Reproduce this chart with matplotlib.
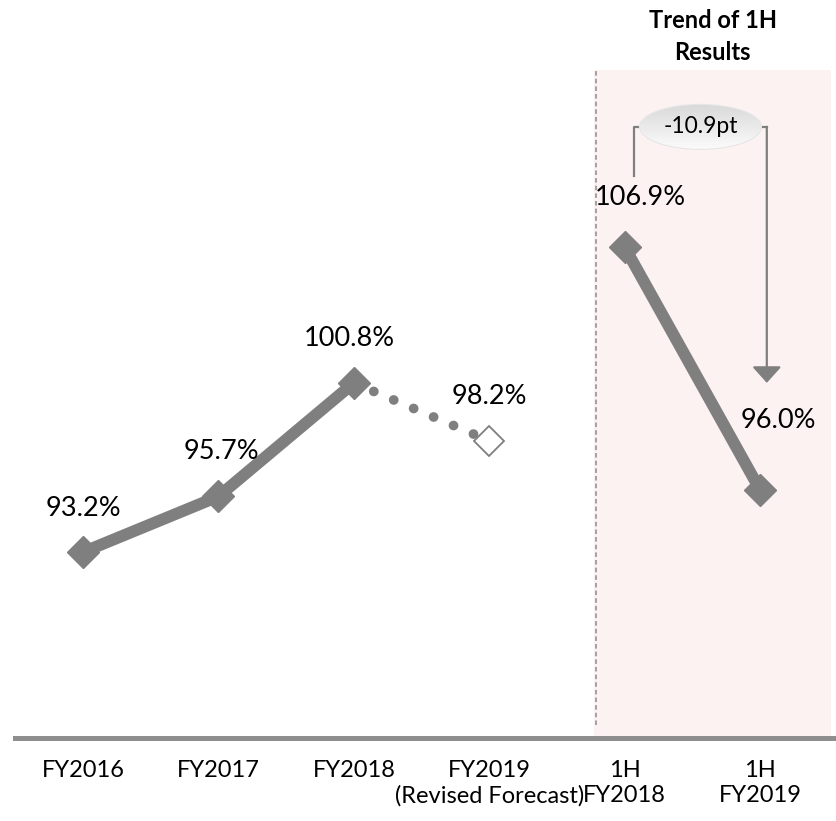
import numpy as np
import matplotlib
matplotlib.use("Agg")
import matplotlib.pyplot as plt
from matplotlib.patches import Ellipse

plt.rcParams["font.family"] = ["Lato", "DejaVu Sans"]

# chart data
categories = ["FY2016", "FY2017", "FY2018", "FY2019\n(Revised Forecast)", "1H\nFY2018", "1H\nFY2019"]
annual_values = [93.2, 95.7, 100.8]
forecast_value = 98.2
half_values = [106.9, 96.0]
diff_label = "-10.9pt"
panel_title = "Trend of 1H\nResults"

GRAY = "#7f7f7f"
AXIS_GRAY = "#8e8e8e"
PINK = "#fdf2f2"
BASE = 84.85

fig = plt.figure(figsize=(8.36, 8.21), dpi=100)
ax = fig.add_axes([0, 0, 1, 1])
ax.set_facecolor("none")

x_annual = np.arange(len(annual_values))
x_forecast = len(annual_values)
x_half = np.arange(len(half_values)) + len(annual_values) + 1

# shaded panel for the half-year comparison
panel_left, panel_right, panel_top = 3.774, 5.524, 114.85
ax.fill_between([panel_left, panel_right], BASE, panel_top, color=PINK, lw=0, zorder=0)
ax.plot([3.79, 3.79], [85.43, panel_top], color="#8a8a8a", lw=1.1,
        ls=(0, (3, 2)), zorder=1)
ax.text((panel_left + panel_right) / 2, 116.35, panel_title, ha="center", va="center",
        fontsize=17, fontweight="bold", linespacing=1.45)

# annual results and revised forecast
ax.plot(x_annual, annual_values, color=GRAY, lw=8.5, marker="D", ms=16.5,
        solid_joinstyle="miter", zorder=3)
ax.plot([x_annual[-1], x_forecast], [annual_values[-1], forecast_value], color=GRAY,
        lw=7, ls=(0, (0.01, 2.22)), dash_capstyle="round", zorder=2)
ax.plot([x_forecast], [forecast_value], marker="D", ms=15, mfc="white", mec=GRAY,
        mew=1.3, ls="none", zorder=4)

# half-year results
ax.plot(x_half, half_values, color=GRAY, lw=8.5, marker="D", ms=16.5, zorder=3)

# value labels
label_offsets = [(0, 31.7), (2, 32), (-3, 32), (0, 32), (11.5, 36), (13, 50)]
all_x = list(x_annual) + [x_forecast] + list(x_half)
all_v = annual_values + [forecast_value] + half_values
for xv, v, (dx, dy) in zip(all_x, all_v, label_offsets):
    ax.annotate(f"{v:.1f}%", (xv, v), xytext=(dx, dy), textcoords="offset points",
                ha="center", va="center", fontsize=19.5, zorder=5)

# bracket with change callout
left_x = x_half[0] + 0.07
right_x = x_half[1] + 0.05
top_y = max(half_values) + 5.4
ax.plot([left_x, left_x, left_x + 0.06], [max(half_values) + 3.2, top_y, top_y],
        color=GRAY, lw=1.6, zorder=3)
ax.plot([right_x - 0.04, right_x], [top_y, top_y], color=GRAY, lw=1.6, zorder=3)
ax.annotate("", xy=(right_x, min(half_values) + 4.8), xytext=(right_x, top_y),
            arrowprops=dict(arrowstyle="-|>,head_width=0.45,head_length=0.5",
                            mutation_scale=20, color=GRAY, lw=1.6,
                            shrinkA=0, shrinkB=0), zorder=3)

ell_cx = (left_x + right_x) / 2
ell_w, ell_h = 0.90, 2.02
ellipse = Ellipse((ell_cx, top_y), ell_w, ell_h, facecolor="none",
                  edgecolor="#e6e6e6", lw=0.8, zorder=6)
ax.add_patch(ellipse)
grad = np.linspace(0, 1, 64).reshape(-1, 1)
grad_img = ax.imshow(grad, cmap=matplotlib.colors.LinearSegmentedColormap.from_list(
    "shade", ["#fbfbfb", "#d9d9d9"]), aspect="auto",
    extent=(ell_cx - ell_w / 2, ell_cx + ell_w / 2, top_y + ell_h / 2, top_y - ell_h / 2),
    zorder=5)
grad_img.set_clip_path(ellipse)
ax.text(ell_cx, top_y, diff_label, ha="center", va="center", fontsize=16.5, zorder=7)

# category axis
ax.set_xlim(-0.613, 5.561)
ax.set_ylim(81.12, 118.0)
ax.set_xticks(all_x)
ax.set_xticklabels(categories)
ax.tick_params(axis="x", length=0, pad=16, labelsize=17)
for lbl in ax.get_xticklabels():
    lbl.set_linespacing(1.5)
ax.set_yticks([])
for side in ["top", "left", "right"]:
    ax.spines[side].set_visible(False)
ax.spines["bottom"].set_position(("data", BASE))
ax.spines["bottom"].set_bounds(-0.5, 5.561)
ax.spines["bottom"].set_linewidth(3.6)
ax.spines["bottom"].set_color(AXIS_GRAY)

fig.savefig("out.png", dpi=100)
